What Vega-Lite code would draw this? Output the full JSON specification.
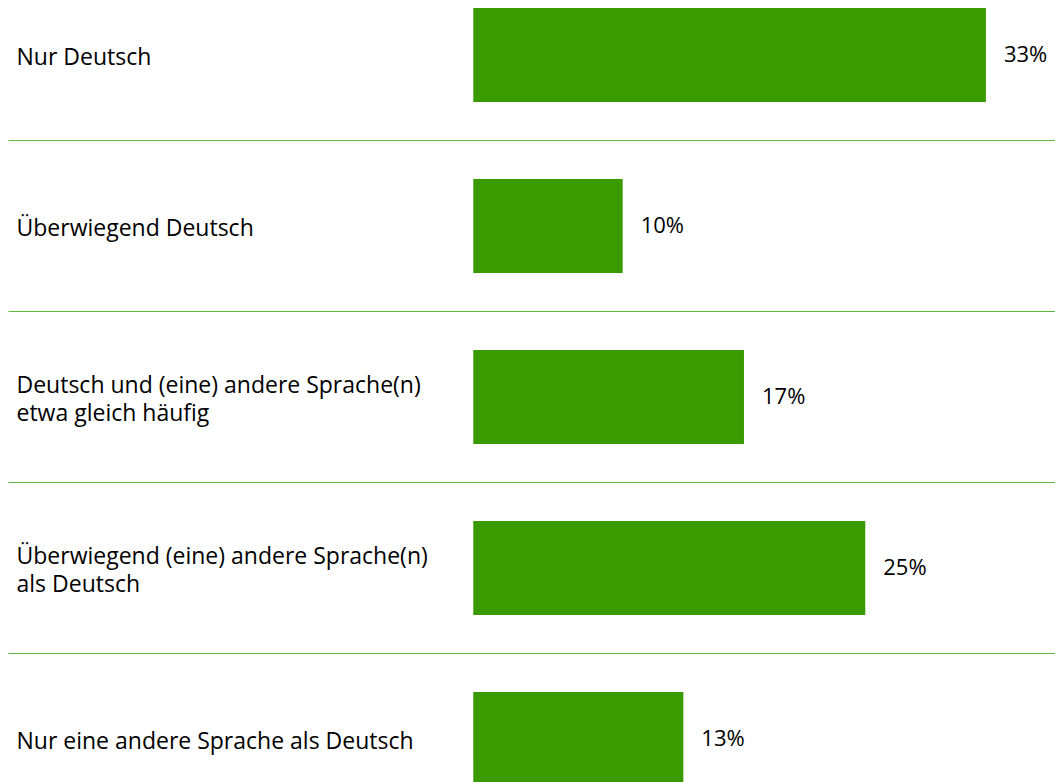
{
  "$schema": "https://vega.github.io/schema/vega-lite/v6.json",
  "autosize": "none",
  "width": 1047,
  "height": 782,
  "padding": {"left": 8, "top": 0, "right": 0, "bottom": 0},
  "background": "white",
  "config": {"view": {"stroke": null}, "font": "Open Sans"},
  "data": {
    "values": [
      {"kategorie": "Nur Deutsch", "anteil": 32.8, "text": "33%"},
      {"kategorie": "Überwiegend Deutsch", "anteil": 9.56, "text": "10%"},
      {"kategorie": "Deutsch und (eine) andere Sprache(n)|etwa gleich häufig", "anteil": 17.32, "text": "17%"},
      {"kategorie": "Überwiegend (eine) andere Sprache(n)|als Deutsch", "anteil": 25.08, "text": "25%"},
      {"kategorie": "Nur eine andere Sprache als Deutsch", "anteil": 13.44, "text": "13%"}
    ]
  },
  "encoding": {
    "y": {
      "field": "kategorie",
      "type": "nominal",
      "sort": null,
      "scale": {"range": [-30.5, 824.5], "paddingInner": 0.45, "paddingOuter": 0.225},
      "axis": {
        "title": null,
        "orient": "left",
        "domain": false,
        "ticks": false,
        "grid": true,
        "gridColor": "#5db53a",
        "gridWidth": 1,
        "gridOpacity": 1,
        "bandPosition": 0,
        "tickOffset": -38.5,
        "labelOffset": {"condition": {"test": "indexof(datum.value, '|') >= 0", "value": 27}, "value": 40.5},
        "labelAlign": "left",
        "labelBaseline": "middle",
        "labelPadding": -8,
        "labelFont": "Open Sans",
        "labelFontSize": 23,
        "labelColor": "#000000",
        "labelLineHeight": 28,
        "labelLimit": 0,
        "labelExpr": "split(datum.label, '|')"
      }
    },
    "x": {
      "field": "anteil",
      "type": "quantitative",
      "scale": {"domain": [-29.77, 37.22], "nice": false, "zero": false},
      "axis": null
    }
  },
  "layer": [
    {"mark": {"type": "bar", "color": "#3a9b00", "clip": false}},
    {
      "mark": {"type": "text", "align": "left", "baseline": "middle", "dx": 18, "font": "Open Sans", "fontSize": 22, "color": "#000000", "clip": false},
      "encoding": {"text": {"field": "text"}}
    }
  ]
}
